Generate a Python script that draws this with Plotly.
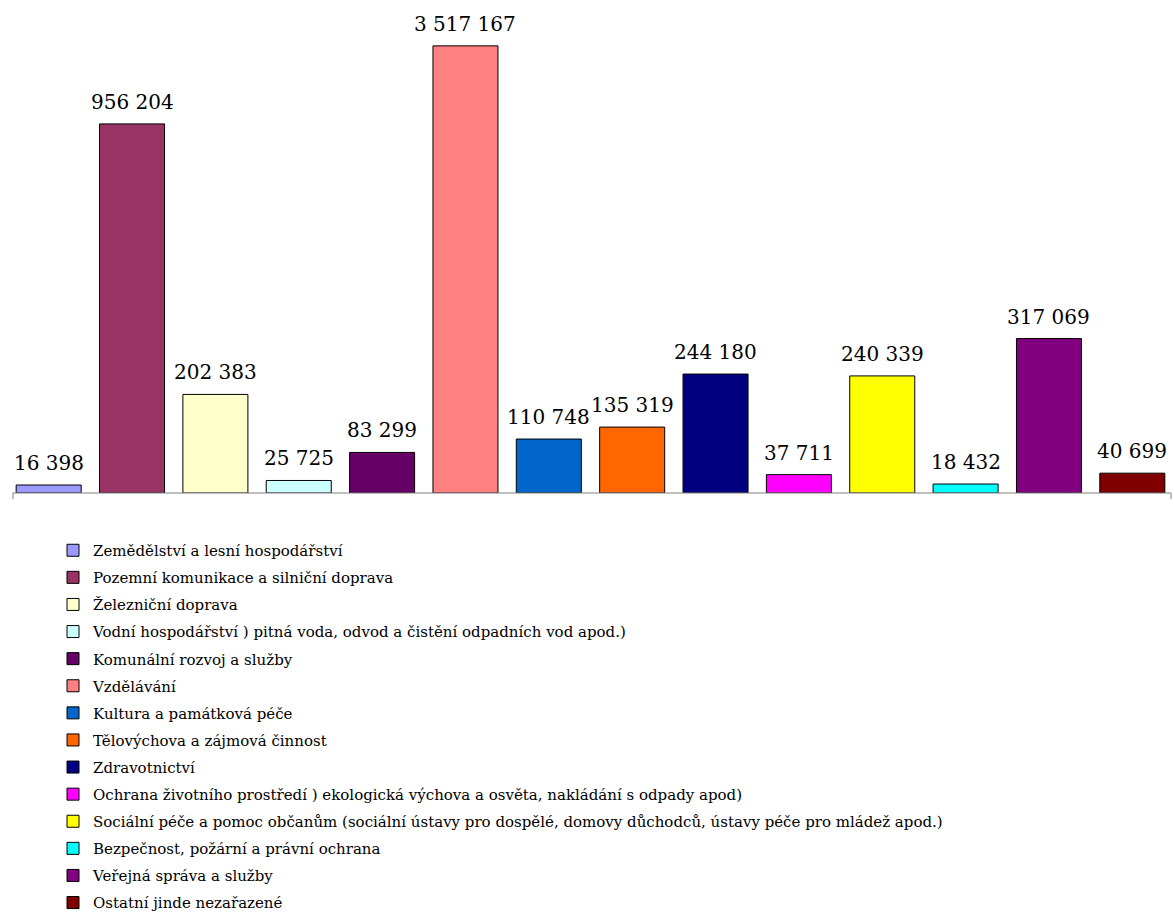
import plotly.graph_objects as go

categories = [
    "Zemědělství a lesní hospodářství",
    "Pozemní komunikace a silniční doprava",
    "Železniční doprava",
    "Vodní hospodářství ) pitná voda, odvod a čistění odpadních vod apod.)",
    "Komunální rozvoj a služby",
    "Vzdělávání",
    "Kultura a památková péče",
    "Tělovýchova a zájmová činnost",
    "Zdravotnictví",
    "Ochrana životního prostředí ) ekologická výchova a osvěta, nakládání s odpady apod)",
    "Sociální péče a pomoc občanům (sociální ústavy pro dospělé, domovy důchodců, ústavy péče pro mládež apod.)",
    "Bezpečnost, požární a právní ochrana",
    "Veřejná správa a služby",
    "Ostatní jinde nezařazené",
]

# values shown in the data labels
values = [16398, 956204, 202383, 25725, 83299, 3517167, 110748, 135319,
          244180, 37711, 240339, 18432, 317069, 40699]

# bar heights as drawn in the picture (the two tallest bars are compressed)
plotted_heights = [16398, 757700, 202383, 25725, 83299, 917900, 110748, 135319,
                   244180, 37711, 240339, 18432, 317069, 40699]

colors = ["#9999FF", "#993366", "#FFFFCC", "#CCFFFF", "#660066", "#FF8080",
          "#0066CC", "#FF6600", "#000080", "#FF00FF", "#FFFF00", "#00FFFF",
          "#800080", "#800000"]

FONT = "DejaVu Serif"

fig = go.Figure()
for i, (cat, h, c) in enumerate(zip(categories, plotted_heights, colors)):
    fig.add_trace(go.Bar(
        x=[i], y=[h], name=cat, legendgroup=str(i),
        marker=dict(color=c, line=dict(color="#000000", width=1)),
        hoverinfo="skip",
    ))

for i, (h, v) in enumerate(zip(plotted_heights, values)):
    fig.add_annotation(
        x=i, y=h, text=f"{v:,}".replace(",", " "), showarrow=False,
        yanchor="bottom", yshift=8,
        font=dict(family=FONT, size=20, color="#000000"),
    )

plot_h = 473
x0 = (13 - 7) / 1167
x1 = (1171 - 7) / 1167
tick = 6 / plot_h
line = dict(color="#808080", width=1)
fig.add_shape(type="line", xref="paper", yref="paper", x0=x0, x1=x1, y0=0, y1=0, line=line)
fig.add_shape(type="line", xref="paper", yref="paper", x0=x0, x1=x0, y0=0, y1=-tick, line=line)
fig.add_shape(type="line", xref="paper", yref="paper", x0=x1, x1=x1, y0=0, y1=-tick, line=line)

fig.update_layout(
    width=1174, height=913,
    margin=dict(l=7, r=0, t=20, b=420, autoexpand=False),
    paper_bgcolor="white", plot_bgcolor="white",
    barmode="overlay", bargap=0.22,
    showlegend=True,
    xaxis=dict(range=[-0.5, 13.5], showticklabels=False, showgrid=False,
               zeroline=False, showline=False, ticks="", fixedrange=True),
    yaxis=dict(range=[0, 971000], visible=False, showgrid=False, zeroline=False),
    legend=dict(
        x=46 / 1167, xanchor="left", y=-41 / plot_h, yanchor="top",
        font=dict(family=FONT, size=15, color="#000000"),
        traceorder="grouped", tracegroupgap=4.6, itemwidth=30,
        bgcolor="rgba(0,0,0,0)",
    ),
    font=dict(family=FONT),
)

fig.write_html(
    "out.html",
    config={"displayModeBar": False},
    post_script="document.body.style.margin='0';document.body.style.overflow='hidden';",
)
